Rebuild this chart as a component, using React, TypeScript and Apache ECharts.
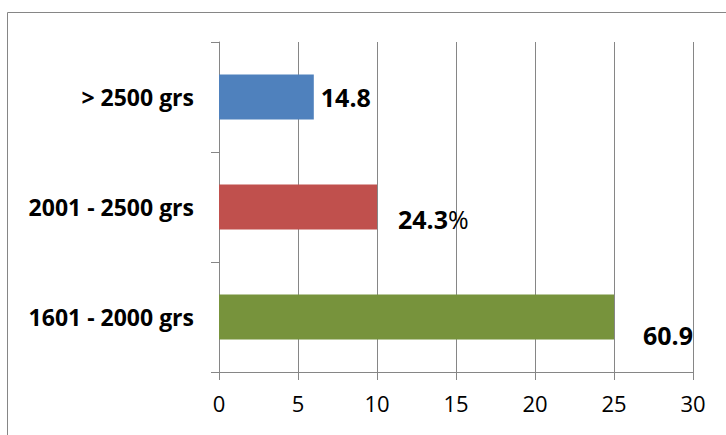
import React, { useEffect, useRef } from "react";
import * as echarts from "echarts";

const categories = ["1601 - 2000 grs", "2001 - 2500 grs", "> 2500 grs"];
const values = [25, 10, 6];
const valueLabels = ["60.9", "24.3%", "14.8"];
const barColors = ["#77933C", "#C0504D", "#4F81BD"];
const xTicks = { min: 0, max: 30, interval: 5 };

const labelOffsets: [number, number][] = [
  [23, 18],
  [15, 12],
  [1, 0],
];

const FONT = "'Open Sans', 'Noto Sans', sans-serif";

export default function App() {
  const ref = useRef<HTMLDivElement>(null);
  useEffect(() => {
    if (!ref.current) return;
    const chart = echarts.init(ref.current, null, { renderer: "svg" });
    const data = values.map((v, i) => {
      const txt = valueLabels[i];
      const hasPct = txt.endsWith("%");
      const fmt = hasPct ? `{b|${txt.slice(0, -1)}}{n|%}` : `{b|${txt}}`;
      return {
        value: v,
        itemStyle: { color: barColors[i] },
        label: {
          show: true,
          position: "right",
          distance: 6,
          offset: labelOffsets[i],
          formatter: fmt,
          rich: {
            b: { fontFamily: FONT, fontSize: 25, fontWeight: "bold", color: "#000" },
            n: { fontFamily: FONT, fontSize: 25, fontWeight: "normal", color: "#000" },
          },
        },
      };
    });
    chart.setOption({
      animation: false,
      backgroundColor: "#fff",
      textStyle: { fontFamily: FONT },
      graphic: [
        {
          type: "rect",
          shape: { x: 7.5, y: 12.5, width: 760, height: 460 },
          style: { fill: "none", stroke: "#868686", lineWidth: 1 },
          silent: true,
        },
      ],
      grid: { left: 219, right: 33, top: 42, bottom: 63, containLabel: false },
      xAxis: {
        type: "value",
        min: xTicks.min,
        max: xTicks.max,
        interval: xTicks.interval,
        axisLine: { show: true, lineStyle: { color: "#868686", width: 1 } },
        axisTick: { show: true, length: 8, lineStyle: { color: "#868686" } },
        splitLine: { show: true, lineStyle: { color: "#868686", width: 1 } },
        axisLabel: { fontFamily: FONT, fontSize: 22, color: "#000", margin: 20 },
      },
      yAxis: {
        type: "category",
        data: categories,
        axisLine: { show: true, lineStyle: { color: "#868686", width: 1 } },
        axisTick: { show: true, length: 8, alignWithLabel: false, lineStyle: { color: "#868686" } },
        axisLabel: { fontFamily: FONT, fontSize: 23, fontWeight: "bold", color: "#000", margin: 25 },
      },
      series: [
        {
          type: "bar",
          data,
          barWidth: 45,
        },
      ],
    });
    return () => chart.dispose();
  }, []);
  return (
    <div
      ref={ref}
      style={{ position: "absolute", left: 0, top: 0, width: 726, height: 435 }}
    />
  );
}
